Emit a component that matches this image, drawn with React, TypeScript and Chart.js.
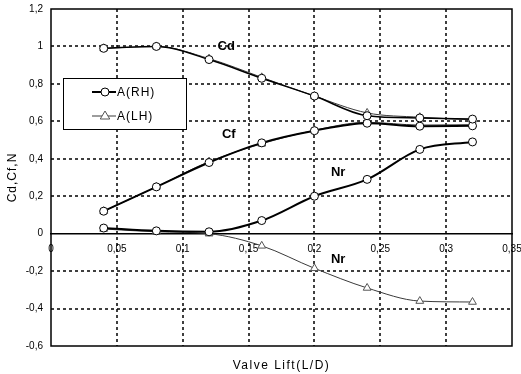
import React, { useEffect, useRef } from 'react';
import { Chart, registerables } from 'chart.js';

Chart.register(...registerables);

// Valve lift (L/D)
const liftLD = [0.04, 0.08, 0.12, 0.16, 0.2, 0.24, 0.28, 0.32];
// Discharge coefficient
const cdRH = [0.99, 1.0, 0.93, 0.83, 0.735, 0.63, 0.618, 0.612];
const cdLH = [0.99, 1.0, 0.935, 0.835, 0.735, 0.645, 0.622, 0.608];
// Flow coefficient
const cfRH = [0.12, 0.25, 0.38, 0.485, 0.55, 0.59, 0.574, 0.576];
const cfLH = [0.12, 0.25, 0.385, 0.48, 0.552, 0.595, 0.58, 0.582];
// Swirl ratio
const nrRH = [0.03, 0.015, 0.01, 0.07, 0.2, 0.29, 0.45, 0.49];
const nrLH = [0.025, 0.01, 0.0, -0.065, -0.185, -0.29, -0.36, -0.365];

const xTickLabels = ['0', '0,05', '0,1', '0,15', '0,2', '0,25', '0,3', '0,35'];
const yTickLabels = ['-0,6', '-0,4', '-0,2', '0', '0,2', '0,4', '0,6', '0,8', '1', '1,2'];
const legendLabels = ['A(RH)', 'A(LH)'];
const curveNames = ['Cd', 'Cf', 'Nr', 'Nr'];
const curveNameX = [0.133, 0.135, 0.218, 0.218];
const curveNameY = [1.0, 0.53, 0.325, -0.135];
const xTitle = 'Valve Lift(L/D)';
const yTitle = 'Cd,Cf,N';

const FONT = '"Liberation Sans", Arial, sans-serif';
const RH_COLOR = '#000000';
const LH_COLOR = '#3a3a3a';

function pts(ys: number[]) {
  return liftLD.map((x, i) => ({ x, y: ys[i] }));
}

function rhSet(label: string, ys: number[], width = 2) {
  return {
    label,
    data: pts(ys),
    borderColor: RH_COLOR,
    borderWidth: width,
    pointStyle: 'circle',
    pointRadius: 4,
    pointBorderWidth: 1,
    pointBorderColor: RH_COLOR,
    pointBackgroundColor: '#ffffff',
    cubicInterpolationMode: 'monotone' as const,
  };
}

function lhSet(label: string, ys: number[]) {
  return {
    label,
    data: pts(ys),
    borderColor: LH_COLOR,
    borderWidth: 1,
    pointStyle: 'triangle',
    pointRadius: 4.5,
    pointBorderWidth: 1,
    pointBorderColor: '#555555',
    pointBackgroundColor: '#ffffff',
    cubicInterpolationMode: 'monotone' as const,
  };
}

function drawTriangle(ctx: CanvasRenderingContext2D, cx: number, cy: number, r: number) {
  ctx.beginPath();
  ctx.moveTo(cx, cy - r);
  ctx.lineTo(cx + r * 0.95, cy + r * 0.6);
  ctx.lineTo(cx - r * 0.95, cy + r * 0.6);
  ctx.closePath();
  ctx.fill();
  ctx.stroke();
}

const gridPlugin = {
  id: 'dashGrid',
  beforeDatasetsDraw(chart: any) {
    const { ctx, chartArea: a, scales } = chart;
    const xs = scales.x;
    const ys = scales.y;
    ctx.save();
    ctx.strokeStyle = '#000';
    ctx.lineWidth = 1.5;
    ctx.setLineDash([3, 3]);
    xs.ticks.forEach((t: any) => {
      const px = Math.round(xs.getPixelForValue(t.value));
      if (px <= a.left + 1 || px >= a.right - 1) return;
      ctx.beginPath();
      ctx.moveTo(px, a.top);
      ctx.lineTo(px, a.bottom);
      ctx.stroke();
    });
    ys.ticks.forEach((t: any) => {
      if (Math.abs(t.value) < 1e-9) return;
      const py = Math.round(ys.getPixelForValue(t.value));
      if (py <= a.top + 1 || py >= a.bottom - 1) return;
      ctx.beginPath();
      ctx.moveTo(a.left, py);
      ctx.lineTo(a.right, py);
      ctx.stroke();
    });
    ctx.restore();
  },
};

const decorPlugin = {
  id: 'decor',
  afterDatasetsDraw(chart: any) {
    const { ctx, chartArea: a, scales } = chart;
    const xs = scales.x;
    const ys = scales.y;
    ctx.save();
    // frame
    ctx.strokeStyle = '#000';
    ctx.lineWidth = 1.5;
    ctx.setLineDash([]);
    ctx.strokeRect(a.left, a.top, a.right - a.left, a.bottom - a.top);

    // curve names
    ctx.fillStyle = '#000';
    ctx.font = 'bold 13px ' + FONT;
    ctx.textAlign = 'center';
    ctx.textBaseline = 'middle';
    curveNames.forEach((t, i) => {
      ctx.fillText(t, xs.getPixelForValue(curveNameX[i]), ys.getPixelForValue(curveNameY[i]));
    });

    // legend box
    const lx = a.left + 12;
    const ly = a.top + 69;
    const lw = 123;
    const lh = 51;
    ctx.fillStyle = '#fff';
    ctx.fillRect(lx, ly, lw, lh);
    ctx.strokeStyle = '#000';
    ctx.lineWidth = 1;
    ctx.strokeRect(lx + 0.5, ly + 0.5, lw, lh);

    const rows = [ly + 14, ly + 38];
    ctx.font = '12px ' + FONT;
    ctx.textAlign = 'left';
    ctx.textBaseline = 'middle';
    legendLabels.forEach((t, i) => {
      const yy = rows[i];
      ctx.strokeStyle = i === 0 ? RH_COLOR : LH_COLOR;
      ctx.lineWidth = i === 0 ? 2 : 1;
      ctx.beginPath();
      ctx.moveTo(lx + 29, yy);
      ctx.lineTo(lx + 53, yy);
      ctx.stroke();
      ctx.fillStyle = '#fff';
      ctx.lineWidth = 1;
      if (i === 0) {
        ctx.strokeStyle = RH_COLOR;
        ctx.beginPath();
        ctx.arc(lx + 42, yy, 4, 0, Math.PI * 2);
        ctx.fill();
        ctx.stroke();
      } else {
        ctx.strokeStyle = '#555';
        drawTriangle(ctx, lx + 42, yy, 5);
      }
      ctx.fillStyle = '#000';
      (ctx as any).letterSpacing = '1px';
      ctx.fillText(t, lx + 54, yy + 1);
      (ctx as any).letterSpacing = '0px';
    });

    // axis titles
    ctx.fillStyle = '#000';
    ctx.font = '12px ' + FONT;
    ctx.textAlign = 'center';
    ctx.textBaseline = 'middle';
    (ctx as any).letterSpacing = '1.5px';
    ctx.fillText(xTitle, (a.left + a.right) / 2, 366);
    ctx.save();
    ctx.translate(13, (a.top + a.bottom) / 2);
    ctx.rotate(-Math.PI / 2);
    (ctx as any).letterSpacing = '1px';
    ctx.fillText(yTitle, 0, 0);
    ctx.restore();
    (ctx as any).letterSpacing = '0px';
    ctx.restore();
  },
};

export default function App() {
  const canvasRef = useRef<HTMLCanvasElement | null>(null);

  useEffect(() => {
    document.body.style.margin = '0';
    const canvas = canvasRef.current;
    if (!canvas) return;
    const chart = new Chart(canvas, {
      type: 'line',
      data: {
        datasets: [
          rhSet('Cd A(RH)', cdRH, 1.5),
          lhSet('Cd A(LH)', cdLH),
          rhSet('Cf A(RH)', cfRH),
          lhSet('Cf A(LH)', cfLH),
          rhSet('Nr A(RH)', nrRH),
          lhSet('Nr A(LH)', nrLH),
        ] as any,
      },
      options: {
        responsive: false,
        animation: false,
        devicePixelRatio: 1,
        layout: { padding: { left: 0, right: 9, top: 9, bottom: 28 } },
        plugins: {
          legend: { display: false },
          tooltip: { enabled: false },
        },
        scales: {
          x: {
            type: 'linear',
            position: { y: 0 } as any,
            min: 0,
            max: 0.35,
            afterFit: (s: any) => {
              s.paddingLeft = 0;
              s.paddingRight = 0;
              s.paddingTop = 0;
              s.paddingBottom = 0;
            },
            grid: { display: false, drawTicks: false },
            border: { display: true, color: '#000', width: 1.5 },
            ticks: {
              stepSize: 0.05,
              padding: 10,
              color: '#000',
              font: { family: FONT, size: 10 },
              maxRotation: 0,
              autoSkip: false,
              callback: (_v: any, i: number) => xTickLabels[i] ?? '',
            },
          },
          y: {
            type: 'linear',
            min: -0.6,
            max: 1.2,
            afterFit: (s: any) => {
              s.width = 51;
              s.paddingTop = 0;
              s.paddingBottom = 0;
            },
            grid: { display: false, drawTicks: false },
            border: { display: false },
            ticks: {
              stepSize: 0.2,
              padding: 8,
              color: '#000',
              font: { family: FONT, size: 10 },
              autoSkip: false,
              callback: (_v: any, i: number) => yTickLabels[i] ?? '',
            },
          },
        },
      },
      plugins: [gridPlugin, decorPlugin],
    });
    return () => chart.destroy();
  }, []);

  return (
    <div style={{ width: 521, height: 374 }}>
      <canvas ref={canvasRef} width={521} height={374} style={{ display: 'block' }} />
    </div>
  );
}
